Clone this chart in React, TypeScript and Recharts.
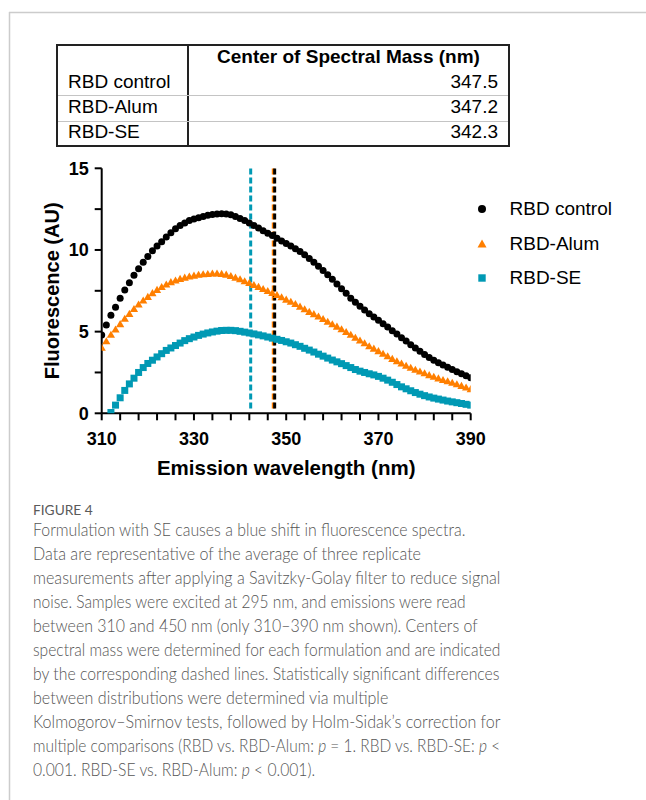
import React, { useLayoutEffect, useRef, useState } from 'react';
import { ScatterChart, Scatter, XAxis, YAxis, ReferenceLine } from 'recharts';

const wavelengths = [
  310, 311, 312, 313, 314, 315, 316, 317, 318, 319,
  320, 321, 322, 323, 324, 325, 326, 327, 328, 329,
  330, 331, 332, 333, 334, 335, 336, 337, 338, 339,
  340, 341, 342, 343, 344, 345, 346, 347, 348, 349,
  350, 351, 352, 353, 354, 355, 356, 357, 358, 359,
  360, 361, 362, 363, 364, 365, 366, 367, 368, 369,
  370, 371, 372, 373, 374, 375, 376, 377, 378, 379,
  380, 381, 382, 383, 384, 385, 386, 387, 388, 389, 390,
];

const controlValues = [
  4.8, 5.4, 6.0, 6.5, 7.05, 7.55, 8.0, 8.45, 8.85, 9.25,
  9.6, 9.95, 10.25, 10.5, 10.8, 11.05, 11.3, 11.5, 11.65, 11.8,
  11.9, 11.98, 12.05, 12.12, 12.17, 12.2, 12.22, 12.2, 12.15, 12.05,
  11.92, 11.8, 11.65, 11.5, 11.35, 11.18, 11.02, 10.88, 10.72, 10.55,
  10.4, 10.25, 10.08, 9.9, 9.7, 9.48, 9.25, 9.0, 8.75, 8.48,
  8.2, 7.92, 7.62, 7.35, 7.05, 6.8, 6.55, 6.32, 6.1, 5.9,
  5.7, 5.48, 5.28, 5.05, 4.85, 4.62, 4.42, 4.2, 4.0, 3.8,
  3.6, 3.42, 3.25, 3.1, 2.95, 2.82, 2.68, 2.55, 2.42, 2.3, 2.18,
];

const alumValues = [
  4.0, 4.4, 4.8, 5.12, 5.45, 5.78, 6.08, 6.38, 6.65, 6.9,
  7.12, 7.35, 7.55, 7.72, 7.88, 8.02, 8.12, 8.22, 8.3, 8.37,
  8.42, 8.47, 8.5, 8.52, 8.55, 8.55, 8.53, 8.48, 8.4, 8.3,
  8.2, 8.08, 7.97, 7.85, 7.73, 7.6, 7.48, 7.36, 7.23, 7.1,
  6.95, 6.82, 6.68, 6.52, 6.36, 6.2, 6.06, 5.92, 5.76, 5.6,
  5.44, 5.3, 5.14, 4.97, 4.8, 4.62, 4.45, 4.28, 4.1, 3.95,
  3.8, 3.64, 3.48, 3.32, 3.18, 3.04, 2.9, 2.78, 2.66, 2.55,
  2.44, 2.33, 2.23, 2.13, 2.03, 1.95, 1.86, 1.77, 1.67, 1.57, 1.47,
];

const seValues: (number | null)[] = [
  null, null, 0.05, 0.5, 0.95, 1.4, 1.8, 2.15, 2.5, 2.8,
  3.05, 3.25, 3.45, 3.65, 3.85, 4.0, 4.15, 4.3, 4.45, 4.57,
  4.67, 4.77, 4.85, 4.92, 4.98, 5.03, 5.07, 5.08, 5.08, 5.06,
  5.02, 4.97, 4.92, 4.86, 4.8, 4.74, 4.67, 4.6, 4.53, 4.46,
  4.38, 4.3, 4.2, 4.1, 3.98, 3.87, 3.75, 3.62, 3.5, 3.38,
  3.26, 3.15, 3.04, 2.92, 2.8, 2.68, 2.58, 2.5, 2.42, 2.35,
  2.26, 2.15, 2.03, 1.9, 1.76, 1.62, 1.5, 1.38, 1.27, 1.17,
  1.08, 1.0, 0.93, 0.87, 0.81, 0.75, 0.7, 0.65, 0.6, 0.55, 0.5,
];

const seriesNames = ['RBD control', 'RBD-Alum', 'RBD-SE'];
const seriesColors = ['#000000', '#ff7f00', '#0099b4'];
const centerOfMass = [347.5, 347.2, 342.3];
const centerOfMassLabels = ['347.5', '347.2', '342.3'];

const xTicks = [310, 314, 318, 322, 326, 330, 334, 338, 342, 346, 350, 354, 358, 362, 366, 370, 374, 378, 382, 386, 390];
const xLabelTicks = [310, 330, 350, 370, 390];
const yTicks = [0, 2.5, 5, 7.5, 10, 12.5, 15];
const yLabelTicks = [0, 5, 10, 15];

const captionTitle = 'FIGURE 4';
const captionLines = [
  'Formulation with SE causes a blue shift in fluorescence spectra.',
  'Data are representative of the average of three replicate',
  'measurements after applying a Savitzky-Golay filter to reduce signal',
  'noise. Samples were excited at 295 nm, and emissions were read',
  'between 310 and 450 nm (only 310\u2013390 nm shown). Centers of',
  'spectral mass were determined for each formulation and are indicated',
  'by the corresponding dashed lines. Statistically significant differences',
  'between distributions were determined via multiple',
  'Kolmogorov\u2013Smirnov tests, followed by Holm-Sidak\u2019s correction for',
  'multiple comparisons (RBD vs. RBD-Alum: *p* = 1. RBD vs. RBD-SE: *p* <',
  '0.001. RBD-SE vs. RBD-Alum: *p* < 0.001).',
];
const captionWidths = [432, 388, 467, 433, 445, 467, 467, 355, 467, 467, 282];

const FONT = '"Liberation Sans", Arial, Helvetica, sans-serif';
const CAPTION_FONT = "Lato, 'Open Sans', sans-serif";

const makeData = (vals: (number | null)[]) =>
  wavelengths
    .map((w, i) => ({ x: w, y: vals[i] }))
    .filter((d) => d.y !== null && d.y !== undefined);

const controlData = makeData(controlValues);
const alumData = makeData(alumValues);
const seData = makeData(seValues);

const CircleShape = (p: any) => <circle cx={p.cx} cy={p.cy} r={3.5} fill={seriesColors[0]} />;
const TriangleShape = (p: any) => (
  <polygon
    points={`${p.cx},${p.cy - 4.2} ${p.cx + 4.1},${p.cy + 2.9} ${p.cx - 4.1},${p.cy + 2.9}`}
    fill={seriesColors[1]}
  />
);
const SquareShape = (p: any) => <rect x={p.cx - 3.5} y={p.cy - 3.5} width={7} height={7} fill={seriesColors[2]} />;

const legendIcon = (i: number) => {
  if (i === 0) return <circle cx={12} cy={12} r={4} fill={seriesColors[0]} />;
  if (i === 1) return <polygon points="12,7.5 16.5,15.5 7.5,15.5" fill={seriesColors[1]} />;
  return <rect x={8.3} y={8.3} width={7.4} height={7.4} fill={seriesColors[2]} />;
};

function FitLine(props: {
  text: string;
  width: number;
  top: number;
  fontSize: number;
  lineHeight: number;
  weight: number;
  color: string;
}) {
  const ref = useRef<HTMLDivElement>(null);
  const [scale, setScale] = useState(1);
  useLayoutEffect(() => {
    const measure = () => {
      if (ref.current) {
        const natural = ref.current.scrollWidth;
        if (natural > 0) setScale(props.width / natural);
      }
    };
    measure();
    if ((document as any).fonts && (document as any).fonts.ready) {
      (document as any).fonts.ready.then(measure);
    }
  }, [props.text, props.width]);
  const parts = props.text.split('*');
  return (
    <div
      ref={ref}
      style={{
        position: 'absolute',
        left: 33.3,
        top: props.top,
        whiteSpace: 'nowrap',
        fontFamily: CAPTION_FONT,
        fontSize: props.fontSize,
        fontWeight: props.weight,
        lineHeight: `${props.lineHeight}px`,
        color: props.color,
        transformOrigin: '0 0',
        transform: `scaleX(${scale})`,
      }}
    >
      {parts.map((seg, k) =>
        k % 2 === 1 ? <i key={k}>{seg}</i> : <span key={k}>{seg}</span>
      )}
    </div>
  );
}

export default function App() {
  return (
    <div style={{ position: 'absolute', left: 0, top: 0, width: 646, height: 800, background: '#fff' }}>
      <svg width={646} height={800} style={{ position: 'absolute', left: 0, top: 0 }}>
        <line x1={9} y1={12.5} x2={646} y2={12.5} stroke="#cccccc" strokeWidth={1.5} />
        <line x1={9.5} y1={12} x2={9.5} y2={800} stroke="#cccccc" strokeWidth={1.5} />
      </svg>

      <FitLine text={captionTitle} width={60} top={502} fontSize={13.5} lineHeight={16} weight={400} color="#5a5a5a" />
      {captionLines.map((line, i) => (
        <FitLine
          key={i}
          text={line}
          width={captionWidths[i]}
          top={518.4 + i * 24}
          fontSize={17}
          lineHeight={24}
          weight={300}
          color="#555555"
        />
      ))}

      <div style={{ position: 'absolute', left: 0, top: 150 }}>
        <ScatterChart width={646} height={340} margin={{ top: 18.3, right: 175.3, bottom: 14.7, left: 0 }}>
          <XAxis
            dataKey="x"
            type="number"
            domain={[310, 390]}
            ticks={xTicks}
            interval={0}
            allowDataOverflow
            height={62}
            tickSize={7}
            tickMargin={12}
            stroke="#000"
            axisLine={{ stroke: '#000', strokeWidth: 2 }}
            tickLine={{ stroke: '#000', strokeWidth: 2 }}
            tick={{ fill: '#000', fontSize: 18, fontWeight: 700, fontFamily: FONT }}
            tickFormatter={(v: number) => (xLabelTicks.includes(v) ? String(v) : '')}
            label={{
              value: 'Emission wavelength (nm)',
              position: 'insideBottom',
              offset: 0,
              style: { fill: '#000', fontSize: 20.5, fontWeight: 700, fontFamily: FONT },
            }}
          />
          <YAxis
            dataKey="y"
            type="number"
            domain={[0, 15]}
            ticks={yTicks}
            interval={0}
            allowDataOverflow
            width={101.7}
            tickSize={7}
            tickMargin={6}
            stroke="#000"
            axisLine={{ stroke: '#000', strokeWidth: 2 }}
            tickLine={{ stroke: '#000', strokeWidth: 2 }}
            tick={{ fill: '#000', fontSize: 18, fontWeight: 700, fontFamily: FONT }}
            tickFormatter={(v: number) => (yLabelTicks.includes(v) ? String(v) : '')}
            label={{
              value: 'Fluorescence (AU)',
              angle: -90,
              position: 'insideLeft',
              offset: 52,
              style: { textAnchor: 'middle', fill: '#000', fontSize: 20, fontWeight: 700, fontFamily: FONT },
            }}
          />
          <Scatter name={seriesNames[0]} data={controlData} fill={seriesColors[0]} shape={CircleShape} isAnimationActive={false} />
          <Scatter name={seriesNames[1]} data={alumData} fill={seriesColors[1]} shape={TriangleShape} isAnimationActive={false} />
          <Scatter name={seriesNames[2]} data={seData} fill={seriesColors[2]} shape={SquareShape} isAnimationActive={false} />
          <ReferenceLine
            segment={[{ x: centerOfMass[1], y: 0.3 }, { x: centerOfMass[1], y: 15 }]}
            stroke={seriesColors[1]}
            strokeWidth={3}
            strokeDasharray="6 3"
          />
          <ReferenceLine
            segment={[{ x: centerOfMass[0], y: 0.3 }, { x: centerOfMass[0], y: 15 }]}
            stroke={seriesColors[0]}
            strokeWidth={3}
            strokeDasharray="6 3"
          />
          <ReferenceLine
            segment={[{ x: centerOfMass[2], y: 0.3 }, { x: centerOfMass[2], y: 15 }]}
            stroke={seriesColors[2]}
            strokeWidth={3}
            strokeDasharray="6 3"
          />
        </ScatterChart>
      </div>

      <div style={{ position: 'absolute', left: 470, top: 191.75, fontFamily: FONT, fontSize: 19, color: '#000' }}>
        {seriesNames.map((n, i) => (
          <div key={n} style={{ height: 34.5, display: 'flex', alignItems: 'center' }}>
            <svg width={24} height={24} style={{ display: 'block' }}>
              {legendIcon(i)}
            </svg>
            <span style={{ marginLeft: 15.5, whiteSpace: 'nowrap' }}>{n}</span>
          </div>
        ))}
      </div>

      <div
        style={{
          position: 'absolute',
          left: 56,
          top: 44,
          width: 454,
          height: 103,
          border: '2px solid #222',
          boxSizing: 'border-box',
          fontFamily: FONT,
          fontSize: 19,
          color: '#000',
        }}
      >
        <div style={{ position: 'absolute', left: 129, top: 0, width: 2, height: 99, background: '#222' }} />
        <div style={{ position: 'absolute', left: 0, top: 48.5, width: 450, height: 1, background: '#c4c4c4' }} />
        <div style={{ position: 'absolute', left: 0, top: 74.5, width: 450, height: 1, background: '#c4c4c4' }} />
        <div
          style={{
            position: 'absolute',
            left: 131,
            top: -2.5,
            width: 319,
            height: 25,
            lineHeight: '25px',
            textAlign: 'center',
            fontWeight: 700,
            whiteSpace: 'nowrap',
          }}
        >
          Center of Spectral Mass (nm)
        </div>
        {seriesNames.map((n, i) => (
          <React.Fragment key={n}>
            <div
              style={{
                position: 'absolute',
                left: 10,
                top: 22.5 + i * 25,
                height: 25,
                lineHeight: '25px',
                whiteSpace: 'nowrap',
              }}
            >
              {n}
            </div>
            <div
              style={{
                position: 'absolute',
                right: 10,
                top: 22.5 + i * 25,
                height: 25,
                lineHeight: '25px',
                whiteSpace: 'nowrap',
              }}
            >
              {centerOfMassLabels[i]}
            </div>
          </React.Fragment>
        ))}
      </div>
    </div>
  );
}
